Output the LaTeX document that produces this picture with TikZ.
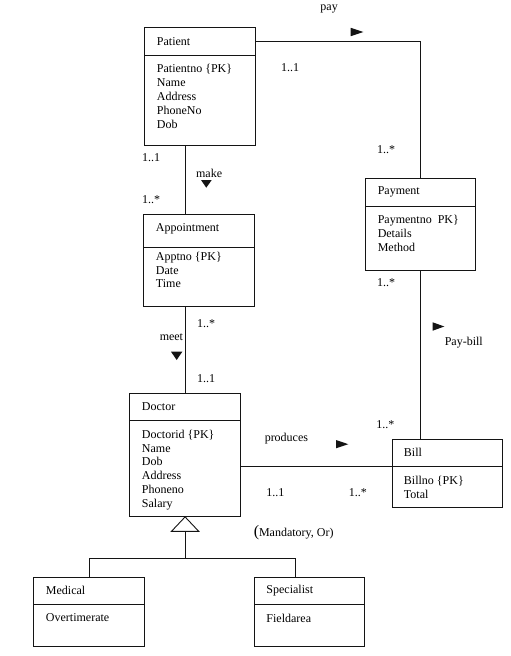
\documentclass[tikz,border=0pt]{standalone}
\usepackage{fontspec}
\setmainfont{Liberation Serif}
\usetikzlibrary{calc,positioning}
\definecolor{ink}{gray}{0.08}

\begin{document}
\begin{tikzpicture}[x=1pt,y=-1pt,line width=0.9pt,draw=ink,
  font=\fontsize{12}{13.85}\selectfont,
  cls/.style={draw,anchor=north west,inner sep=0pt},
  ttl/.style={anchor=west,inner sep=0pt},
  attr/.style={anchor=north west,inner sep=0pt,align=left},
  lbl/.style={anchor=west,inner sep=0pt}]
  \useasboundingbox[fill=white] (0,0) rectangle (511,656);

  % class boxes: outline, divider, name, attributes
  \node[cls,minimum width=110.7pt,minimum height=117.7pt] (patient) at (144.3,27.3) {};
  \coordinate (patient-d) at (144.3,55);
  \draw (patient-d) -- (patient-d -| patient.east);
  \node[ttl] (patient-t) at (156.5,41.2) {Patient};
  \node[attr] (patient-a) at (156.5,64) {Patientno \{PK\}\\Name\\Address\\PhoneNo\\Dob};

  \node[cls,minimum width=111pt,minimum height=91.7pt] (appt) at (143.3,214) {};
  \coordinate (appt-d) at (143.3,247.3);
  \draw (appt-d) -- (appt-d -| appt.east);
  \node[ttl] (appt-t) at (155.5,228.5) {Appointment};
  \node[attr] (appt-a) at (155.5,251.5) {Apptno \{PK\}\\Date\\Time};

  \node[cls,minimum width=110pt,minimum height=91.7pt] (payment) at (365.3,178.3) {};
  \coordinate (payment-d) at (365.3,206.7);
  \draw (payment-d) -- (payment-d -| payment.east);
  \node[ttl] (payment-t) at (377.3,192) {Payment};
  \node[attr] (payment-a) at (377.3,215) {Paymentno\ \ PK\}\\Details\\Method};

  \node[cls,minimum width=110.7pt,minimum height=122.7pt] (doctor) at (129.3,393.3) {};
  \coordinate (doctor-d) at (129.3,420);
  \draw (doctor-d) -- (doctor-d -| doctor.east);
  \node[ttl] (doctor-t) at (141.5,406.7) {Doctor};
  \node[attr] (doctor-a) at (141.5,429.5) {Doctorid \{PK\}\\Name\\Dob\\Address\\Phoneno\\Salary};

  \node[cls,minimum width=110pt,minimum height=68pt] (bill) at (391.7,439.3) {};
  \coordinate (bill-d) at (391.7,466.7);
  \draw (bill-d) -- (bill-d -| bill.east);
  \node[ttl] (bill-t) at (403.5,452.5) {Bill};
  \node[attr] (bill-a) at (403.5,476) {Billno \{PK\}\\Total};

  \node[cls,minimum width=110.7pt,minimum height=69pt] (medical) at (33.3,576.7) {};
  \coordinate (medical-d) at (33.3,604.3);
  \draw (medical-d) -- (medical-d -| medical.east);
  \node[ttl] (medical-t) at (45.5,590.5) {Medical};
  \node[attr] (medical-a) at (45.5,613.5) {Overtimerate};

  \node[cls,minimum width=110pt,minimum height=69pt] (specialist) at (254.3,576.7) {};
  \coordinate (specialist-d) at (254.3,604.3);
  \draw (specialist-d) -- (specialist-d -| specialist.east);
  \node[ttl] (specialist-t) at (266,590.5) {Specialist};
  \node[attr] (specialist-a) at (266,613.5) {Fieldarea};

  % associations
  \draw (patient-t.west -| patient.east) -| (payment.north);
  \draw ([xshift=-15pt]patient.south) -- ([xshift=-15pt]patient.south |- appt.north);
  \draw (doctor.north |- appt.south) -- (doctor.north);
  \draw (payment.south) -- (payment.south |- bill.north);
  \draw (bill-d -| doctor.east) -- (bill-d);

  % generalisation
  \draw (doctor.south) -- ++(-13.7,14.5) coordinate (gen-l) -- ++(27.4,0) -- cycle;
  \coordinate (gen) at ($(gen-l)+(13.7,0)$);
  \coordinate (hub) at (gen |- 0,558.3);
  \draw (gen) -- (hub);
  \draw (medical.north) |- (hub) -| ([xshift=-14.3pt]specialist.north);

  % names and direction marks
  \node[lbl] (pay) at (320,9) {pay};
  \fill[ink] (350.7,27.8) -- (363.3,32) -- (350.7,36.2) -- cycle;
  \node[lbl] (make) at (195.7,173) {make};
  \fill[ink] (201,180) -- (211.7,180) -- (206.3,187.7) -- cycle;
  \node[lbl] (meet) at (159.3,337.5) {meet};
  \fill[ink] (171,351.7) -- (182.3,351.7) -- (176.7,360) -- cycle;
  \node[lbl] (paybill) at (444.3,342.5) {Pay-bill};
  \fill[ink] (432.7,322.3) -- (444.3,326.5) -- (432.7,330.7) -- cycle;
  \node[lbl] (produces) at (264.3,438.5) {produces};
  \fill[ink] (336,440) -- (348.3,444.2) -- (336,448.3) -- cycle;
  \node[lbl] (constraint) at (253.3,533) {{\fontsize{16}{16}\selectfont(}Mandatory, Or)};

  % multiplicities
  \node[lbl] (m1) at (280.7,68) {1..1};
  \node[lbl] (m2) at (376.7,150) {1..*};
  \node[lbl] (m3) at (141.7,158) {1..1};
  \node[lbl] (m4) at (141.7,200) {1..*};
  \node[lbl] (m5) at (376.7,282.7) {1..*};
  \node[lbl] (m6) at (196.7,323.3) {1..*};
  \node[lbl] (m7) at (196.7,378.3) {1..1};
  \node[lbl] (m8) at (376,425) {1..*};
  \node[lbl] (m9) at (266,492.7) {1..1};
  \node[lbl] (m10) at (348.3,492.7) {1..*};
\end{tikzpicture}
\end{document}
